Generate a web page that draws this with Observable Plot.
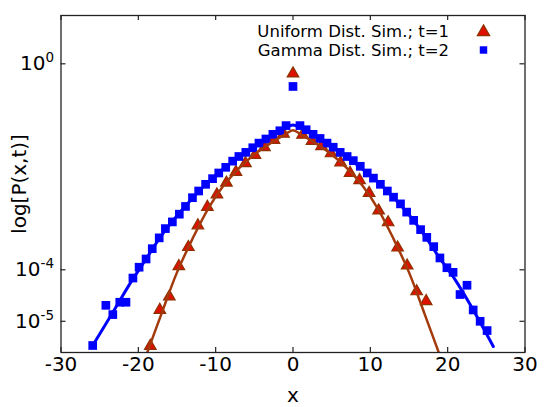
<!DOCTYPE html>
<html>
<head>
<meta charset="utf-8">
<script src="https://cdn.jsdelivr.net/npm/d3@7"></script>
<script src="https://cdn.jsdelivr.net/npm/@observablehq/plot@0.6"></script>
<style>
  html, body { margin: 0; padding: 0; background: #fff; }
  #chart svg { font-family: "DejaVu Sans", sans-serif; background: #fff; }
</style>
</head>
<body>
<div id="chart"></div>
<script>
// ---- data (log10 of P) ----
const xTicks = [-30, -20, -10, 0, 10, 20, 30];
const yTicks = [1, 1e-4, 1e-5];
const yTickExp = ["0", "-4", "-5"];
const xLabel = "x";
const yLabel = "log[P(x,t)]";
const seriesNames = ["Uniform Dist. Sim.; t=1", "Gamma Dist. Sim.; t=2"];

// Uniform distribution simulation, t=1 (triangles)
const uniX = [-18.45, -17.22, -15.99, -14.76, -13.53, -12.3, -11.07, -9.84, -8.61, -7.38, -6.15, -4.92, -3.69, -2.46, -1.23,
  0, 1.23, 2.46, 3.69, 4.92, 6.15, 7.38, 8.61, 9.84, 11.07, 12.3, 13.53, 14.76, 15.99, 17.22];
const uniLogP = [-5.48, -4.78, -4.52, -3.93, -3.56, -3.14, -2.78, -2.54, -2.31, -2.10, -1.93, -1.77, -1.62, -1.48, -1.36,
  -0.19, -1.38, -1.50, -1.60, -1.74, -1.92, -2.12, -2.26, -2.51, -2.85, -3.08, -3.57, -3.92, -4.42, -4.61];

// Gamma distribution simulation, t=2 (squares)
const gamX = [-25.9, -24.2, -23.3, -22.4, -21.6, -20.7, -19.9, -19.0, -18.2, -17.3, -16.5, -15.6, -14.7, -13.9, -13.0,
  -12.2, -11.3, -10.4, -9.6, -8.7, -7.8, -7.0, -6.1, -5.2, -4.4, -3.5, -2.6, -1.7, -0.9,
  0, 0.9, 1.7, 2.6, 3.5, 4.4, 5.2, 6.1, 7.0, 7.8, 8.7, 9.6, 10.4, 11.3, 12.2, 13.0, 13.9,
  14.7, 15.6, 16.5, 17.3, 18.2, 19.0, 19.9, 20.7, 21.6, 22.5, 23.3, 24.2, 25.1];
const gamLogP = [-5.47, -4.69, -4.87, -4.63, -4.63, -4.16, -3.95, -3.79, -3.59, -3.38, -3.20, -3.07, -2.92, -2.77, -2.60,
  -2.47, -2.34, -2.23, -2.12, -2.01, -1.89, -1.80, -1.72, -1.63, -1.54, -1.46, -1.37, -1.30, -1.20,
  -0.44, -1.20, -1.28, -1.37, -1.45, -1.54, -1.62, -1.72, -1.80, -1.88, -1.99, -2.12, -2.22, -2.34, -2.47, -2.59, -2.72,
  -2.88, -3.04, -3.22, -3.37, -3.55, -3.77, -3.96, -4.05, -4.48, -4.30, -4.78, -5.00, -5.18];

// fitted curves
const uniFitX = [-19.2, -17, -15, -13, -11, -9, -7, -5, -3, -1, 0, 1, 3, 5, 7, 9, 11, 13, 15, 17, 19.2];
const uniFitLogP = [-5.75, -4.85, -4.05, -3.40, -2.82, -2.37, -2.03, -1.76, -1.55, -1.37, -1.29,
  -1.37, -1.55, -1.76, -2.03, -2.37, -2.82, -3.40, -4.05, -4.85, -5.75];

const gamFitX = [-25.9, -23, -21, -19, -17, -15, -13, -11, -9, -7, -5, -3, -1, 0, 1, 3, 5, 7, 9, 11, 13, 15, 17, 19, 21, 23, 25.9];
const gamFitLogP = [-5.47, -4.75, -4.25, -3.79, -3.33, -2.95, -2.61, -2.30, -2.04, -1.81, -1.60, -1.42, -1.25, -1.19,
  -1.25, -1.42, -1.60, -1.81, -2.05, -2.30, -2.60, -2.93, -3.33, -3.78, -4.20, -4.70, -5.49];

// ---- build tables ----
const uni = uniX.map((x, i) => ({x, p: 10 ** uniLogP[i]}));
const gam = gamX.map((x, i) => ({x, p: 10 ** gamLogP[i]}));
const uniFit = uniFitX.map((x, i) => ({x, p: 10 ** uniFitLogP[i]}));
const gamFit = gamFitX.map((x, i) => ({x, p: 10 ** gamFitLogP[i]}));

const W = 550, H = 407;
const mL = 60.5, mR = 25.5, mT = 15, mB = 55;
const frameW = W - mL - mR, frameH = H - mT - mB;
const tickLen = 5;

const red = "#e01000", brownEdge = "#8b3200", brownLine = "#a33a0c", blue = "#0000ff";

const chart = Plot.plot({
  width: W, height: H,
  marginLeft: mL, marginRight: mR, marginTop: mT, marginBottom: mB,
  style: {fontFamily: "DejaVu Sans, sans-serif", background: "#fff", color: "#000"},
  x: {domain: [-30, 30]},
  y: {type: "log", domain: [10 ** -5.606, 10 ** 0.938]},
  marks: [
    // data
    Plot.dot(uni, {x: "x", y: "p", symbol: "triangle", r: 4.3, fill: red, stroke: brownEdge, strokeWidth: 1.2}),
    Plot.dot(gam, {x: "x", y: "p", symbol: "square", r: 4.9, fill: blue, stroke: "none"}),
    Plot.line(gamFit, {x: "x", y: "p", stroke: blue, strokeWidth: 3, curve: "catmull-rom", clip: true}),
    Plot.line(uniFit, {x: "x", y: "p", stroke: brownLine, strokeWidth: 2.5, curve: "catmull-rom", clip: true}),
    // frame and inward ticks
    Plot.frame({stroke: "#222", strokeWidth: 1.3}),
    Plot.tickX(xTicks, {x: d => d, insetTop: frameH - tickLen, stroke: "#222", strokeWidth: 1.2}),
    Plot.tickX(xTicks, {x: d => d, insetBottom: frameH - tickLen, stroke: "#222", strokeWidth: 1.2}),
    Plot.tickY(yTicks, {y: d => d, insetRight: frameW - tickLen, stroke: "#222", strokeWidth: 1.2}),
    Plot.tickY(yTicks, {y: d => d, insetLeft: frameW - tickLen, stroke: "#222", strokeWidth: 1.2}),
    // axes labels
    Plot.axisX(xTicks, {anchor: "bottom", tickSize: 0, tickPadding: 4, fontSize: 20, label: null,
      tickFormat: d => String(d)}),
    Plot.axisY(yTicks, {anchor: "left", tickSize: 0, tickPadding: 7, fontSize: 20, label: null,
      tickFormat: d => "10^" + yTickExp[yTicks.indexOf(d)]}),
    Plot.text([xLabel], {frameAnchor: "bottom", dy: 43, fontSize: 20, lineAnchor: "middle", textAnchor: "middle", text: d => d}),
    Plot.text([yLabel], {frameAnchor: "left", dx: -41, rotate: -90, fontSize: 20, textAnchor: "middle", lineAnchor: "middle", text: d => d}),
    // legend
    Plot.text([seriesNames[0]], {frameAnchor: "top-right", dx: -76, dy: 16, fontSize: 16.5, textAnchor: "end", lineAnchor: "middle", text: d => d}),
    Plot.text([seriesNames[1]], {frameAnchor: "top-right", dx: -76, dy: 35, fontSize: 16.5, textAnchor: "end", lineAnchor: "middle", text: d => d}),
    Plot.dot([0], {frameAnchor: "top-right", dx: -41.5, dy: 16.5, symbol: "triangle", r: 4.6, fill: red, stroke: brownEdge, strokeWidth: 1.2}),
    Plot.dot([0], {frameAnchor: "top-right", dx: -41.5, dy: 34.5, symbol: "square", r: 4.2, fill: blue})
  ]
});

// render y tick labels as 10 with a raised exponent
chart.querySelectorAll("text").forEach(t => {
  const s = t.textContent;
  if (s.startsWith("10^")) {
    const exp = s.slice(3);
    while (t.firstChild) t.removeChild(t.firstChild);
    const ns = "http://www.w3.org/2000/svg";
    const base = document.createElementNS(ns, "tspan");
    base.textContent = "10";
    const sup = document.createElementNS(ns, "tspan");
    sup.textContent = exp;
    sup.setAttribute("font-size", "13.5");
    sup.setAttribute("dy", "-8");
    t.appendChild(base);
    t.appendChild(sup);
  }
});

document.getElementById("chart").appendChild(chart);
</script>
</body>
</html>
